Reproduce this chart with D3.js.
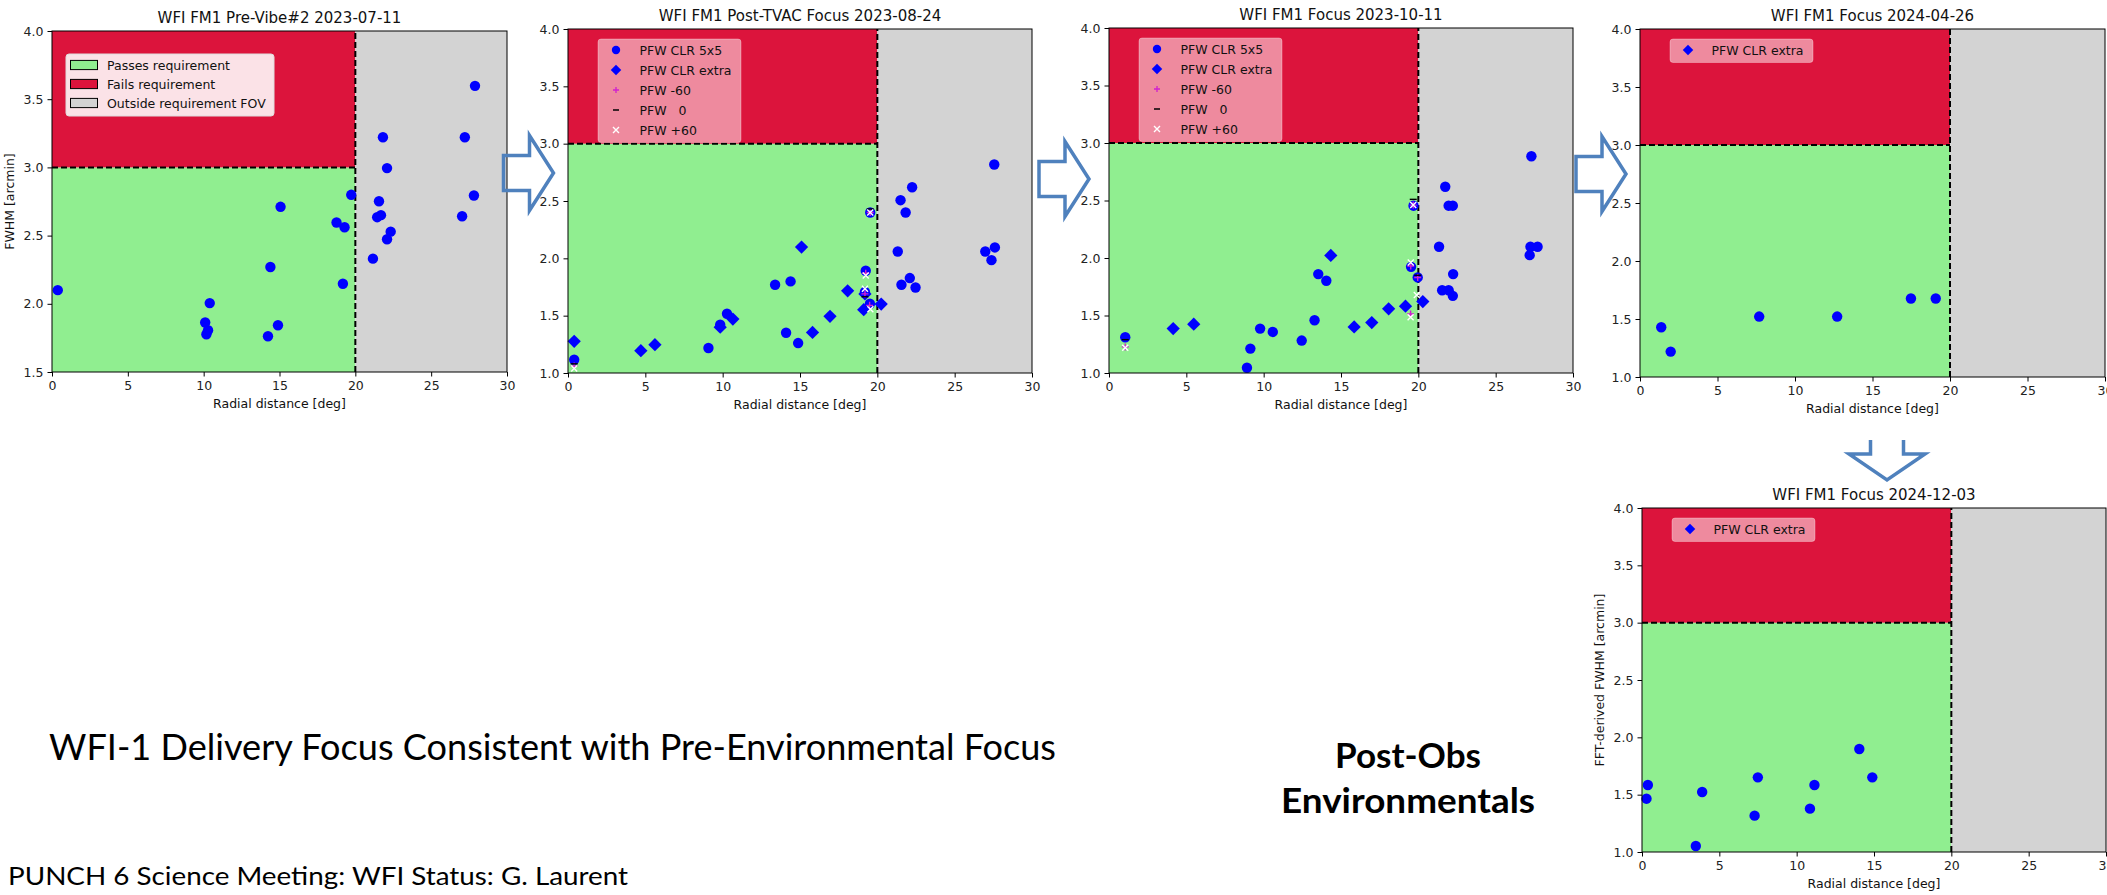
<!DOCTYPE html>
<html>
<head>
<meta charset="utf-8">
<script src="https://cdn.jsdelivr.net/npm/d3@7"></script>
<style>
  body { margin: 0; background: #fff; }
  svg { display: block; }
  text { white-space: pre; }
</style>
</head>
<body>
<svg id="chart"></svg>
<script>
const width = 2107;
const height = 895;

// ---- data ----
const xTicks = [0, 5, 10, 15, 20, 25, 30];
const yTicksPreVibe = [1.5, 2.0, 2.5, 3.0, 3.5, 4.0];
const yTicks = [1.0, 1.5, 2.0, 2.5, 3.0, 3.5, 4.0];

const titles = [
  "WFI FM1 Pre-Vibe#2 2023-07-11",
  "WFI FM1 Post-TVAC Focus 2023-08-24",
  "WFI FM1 Focus 2023-10-11",
  "WFI FM1 Focus 2024-04-26",
  "WFI FM1 Focus 2024-12-03"
];

const zoneLabels = ["Passes requirement", "Fails requirement", "Outside requirement FOV"];
const pfwLabels = ["PFW CLR 5x5", "PFW CLR extra", "PFW -60", "PFW   0", "PFW +60"];

// [radial distance deg, FWHM arcmin]
const preVibeDots = [[0.38,2.10],[10.4,2.005],[10.1,1.863],[10.29,1.806],[10.18,1.777],[15.07,2.711],[14.4,2.27],[14.24,1.762],[14.9,1.843],[18.76,2.596],[19.29,2.561],[19.18,2.147],[19.73,2.799],[21.16,2.331],[21.56,2.752],[21.44,2.635],[21.69,2.65],[21.82,3.221],[22.09,2.995],[22.33,2.529],[22.09,2.473],[27.22,3.221],[27.04,2.642],[27.82,2.794],[27.89,3.598]];

const tvacDots = [[0.40,1.116],[9.08,1.218],[13.39,1.77],[14.39,1.799],[14.10,1.351],[14.88,1.261],[9.84,1.421],[10.28,1.517],[19.25,1.892],[19.2,1.706],[19.52,1.604],[19.54,2.40],[21.32,2.06],[21.5,2.507],[21.83,2.40],[22.25,2.62],[21.56,1.77],[22.1,1.828],[22.47,1.746],[26.98,2.06],[27.38,1.984],[27.6,2.095],[27.56,2.818]];
const tvacExtra = [[0.40,1.276],[4.71,1.195],[5.62,1.247],[9.84,1.40],[10.66,1.47],[15.10,2.098],[15.81,1.354],[16.94,1.494],[18.08,1.717],[19.12,1.552],[20.25,1.601],[19.2,1.69]];
const tvacMinus60 = [[0.40,1.06],[19.25,1.87],[19.2,1.69],[19.5,1.59],[19.54,2.40]];
const tvacZero = [[0.40,1.08],[19.2,1.665],[19.54,2.43]];
const tvacPlus60 = [[0.40,1.04],[19.25,1.85],[19.2,1.735],[19.55,1.555],[19.54,2.40]];

const oct23Dots = [[1.05,1.311],[8.92,1.046],[9.14,1.212],[9.77,1.386],[10.59,1.357],[12.46,1.282],[13.29,1.459],[13.53,1.86],[14.05,1.802],[19.53,1.923],[19.69,2.455],[19.96,1.831],[21.34,2.098],[21.74,2.62],[21.96,2.455],[22.23,2.455],[22.25,1.86],[21.54,1.72],[21.96,1.72],[22.23,1.671],[27.31,2.885],[27.25,2.098],[27.71,2.098],[27.2,2.025]];
const oct23Extra = [[4.15,1.386],[5.48,1.424],[14.34,2.022],[15.85,1.401],[16.99,1.439],[18.08,1.558],[19.17,1.581],[20.29,1.621]];
const oct23Minus60 = [[1.05,1.227],[19.67,2.46],[19.51,1.93],[19.96,1.83],[19.5,1.513]];
const oct23Zero = [[1.05,1.29],[19.67,2.51],[19.96,1.85]];
const oct23Plus60 = [[1.05,1.22],[19.67,2.46],[19.51,1.96],[19.9,1.678],[19.5,1.484]];

const apr24Dots = [[1.37,1.429],[1.98,1.219],[7.69,1.521],[12.72,1.521],[17.48,1.677],[19.08,1.677]];
const dec24Dots = [[0.38,1.584],[0.29,1.465],[3.48,1.052],[3.89,1.523],[7.28,1.317],[7.49,1.651],[10.86,1.378],[11.15,1.584],[14.05,1.898],[14.89,1.651]];

// ---- layout ----
const GREEN = "#90ee90", RED = "#dc143c", GRAY = "#d3d3d3";
const FONT = "DejaVu Sans";

const panels = [
  { title: titles[0], x0: 52, x1: 507, y0: 31, y1: 372, yDomain: [1.5, 4], yTicks: yTicksPreVibe,
    ylabel: "FWHM [arcmin]", legend: "zones",
    dots: preVibeDots, extra: [], m60: [], z0: [], p60: [] },
  { title: titles[1], x0: 568, x1: 1032, y0: 29, y1: 373, yDomain: [1, 4], yTicks: yTicks,
    legend: "pfw", dots: tvacDots, extra: tvacExtra, m60: tvacMinus60, z0: tvacZero, p60: tvacPlus60 },
  { title: titles[2], x0: 1109, x1: 1573, y0: 28, y1: 373, yDomain: [1, 4], yTicks: yTicks,
    legend: "pfw", dots: oct23Dots, extra: oct23Extra, m60: oct23Minus60, z0: oct23Zero, p60: oct23Plus60 },
  { title: titles[3], x0: 1640, x1: 2105, y0: 29, y1: 377, yDomain: [1, 4], yTicks: yTicks,
    legend: "extra", dots: apr24Dots, extra: [], m60: [], z0: [], p60: [] },
  { title: titles[4], x0: 1642, x1: 2106, y0: 508, y1: 852, yDomain: [1, 4], yTicks: yTicks,
    ylabel: "FFT-derived FWHM [arcmin]", legend: "extra",
    dots: dec24Dots, extra: [], m60: [], z0: [], p60: [] }
];

const svg = d3.select("#chart")
  .attr("width", width)
  .attr("height", height);

svg.append("rect").attr("width", width).attr("height", height).attr("fill", "#fff");

const diamond = d3.symbol().type(d3.symbolSquare).size(88);

function plus(g, pts, x, y, color) {
  g.selectAll(null).data(pts).enter().append("path")
    .attr("d", d => `M${x(d[0]) - 3.5},${y(d[1])}h7M${x(d[0])},${y(d[1]) - 3.5}v7`)
    .attr("stroke", color).attr("stroke-width", 1.4).attr("fill", "none");
}
function dash(g, pts, x, y) {
  g.selectAll(null).data(pts).enter().append("path")
    .attr("d", d => `M${x(d[0]) - 3.5},${y(d[1])}h7`)
    .attr("stroke", "#000").attr("stroke-width", 1.4);
}
function cross(g, pts, x, y) {
  g.selectAll(null).data(pts).enter().append("path")
    .attr("d", d => `M${x(d[0]) - 3},${y(d[1]) - 3}l6,6M${x(d[0]) - 3},${y(d[1]) + 3}l6,-6`)
    .attr("stroke", "#fff").attr("stroke-width", 1.4);
}

function drawPanel(p) {
  const x = d3.scaleLinear().domain([0, 30]).range([p.x0, p.x1]);
  const y = d3.scaleLinear().domain(p.yDomain).range([p.y1, p.y0]);
  const g = svg.append("g");

  // requirement zones
  g.append("rect").attr("x", x(0)).attr("y", y(3)).attr("width", x(20) - x(0))
    .attr("height", y(p.yDomain[0]) - y(3)).attr("fill", GREEN);
  g.append("rect").attr("x", x(0)).attr("y", y(4)).attr("width", x(20) - x(0))
    .attr("height", y(3) - y(4)).attr("fill", RED);
  g.append("rect").attr("x", x(20)).attr("y", y(4)).attr("width", x(30) - x(20))
    .attr("height", y(p.yDomain[0]) - y(4)).attr("fill", GRAY);

  g.append("line").attr("x1", x(0)).attr("x2", x(20)).attr("y1", y(3)).attr("y2", y(3))
    .attr("stroke", "#000").attr("stroke-width", 2).attr("stroke-dasharray", "6,3");
  g.append("line").attr("x1", x(20)).attr("x2", x(20)).attr("y1", y(p.yDomain[0])).attr("y2", y(4))
    .attr("stroke", "#000").attr("stroke-width", 2).attr("stroke-dasharray", "6,3");

  // measurements
  g.selectAll(null).data(p.dots).enter().append("circle")
    .attr("cx", d => x(d[0])).attr("cy", d => y(d[1])).attr("r", 5.2).attr("fill", "blue");
  g.selectAll(null).data(p.extra).enter().append("path")
    .attr("d", diamond)
    .attr("transform", d => `translate(${x(d[0])},${y(d[1])}) rotate(45)`)
    .attr("fill", "blue");
  plus(g, p.m60, x, y, "#d020d0");
  dash(g, p.z0, x, y);
  cross(g, p.p60, x, y);

  // frame + axes
  g.append("rect").attr("x", p.x0).attr("y", p.y0).attr("width", p.x1 - p.x0)
    .attr("height", p.y1 - p.y0).attr("fill", "none").attr("stroke", "#000").attr("stroke-width", 1);

  const ax = g.append("g").attr("transform", `translate(0,${p.y1})`)
    .call(d3.axisBottom(x).tickValues(xTicks).tickSize(4.5).tickPadding(4.5).tickFormat(d3.format("d")));
  const ay = g.append("g").attr("transform", `translate(${p.x0},0)`)
    .call(d3.axisLeft(y).tickValues(p.yTicks).tickSize(4.5).tickPadding(4).tickFormat(d3.format(".1f")));
  [ax, ay].forEach(a => {
    a.select(".domain").remove();
    a.attr("font-family", FONT).attr("font-size", 12.5);
    a.selectAll("text").attr("fill", "#222");
    a.selectAll("line").attr("stroke", "#000");
  });

  g.append("text").attr("x", (p.x0 + p.x1) / 2).attr("y", p.y0 - 8.5)
    .attr("text-anchor", "middle").attr("font-family", FONT).attr("font-size", 15)
    .attr("fill", "#111").text(p.title);
  g.append("text").attr("x", (p.x0 + p.x1) / 2).attr("y", p.y1 + 36)
    .attr("text-anchor", "middle").attr("font-family", FONT).attr("font-size", 12.5)
    .attr("fill", "#111").text("Radial distance [deg]");
  if (p.ylabel) {
    g.append("text")
      .attr("transform", `translate(${p.x0 - 42},${(p.y0 + p.y1) / 2}) rotate(-90)`)
      .attr("dy", "0.35em").attr("text-anchor", "middle")
      .attr("font-family", FONT).attr("font-size", 12.5).attr("fill", "#111").text(p.ylabel);
  }

  // legends
  const lg = g.append("g").attr("font-family", FONT).attr("font-size", 12.5).attr("fill", "#111");
  if (p.legend === "zones") {
    lg.append("rect").attr("x", p.x0 + 14).attr("y", p.y0 + 23).attr("width", 208).attr("height", 62)
      .attr("rx", 3).attr("fill", "#fff").attr("fill-opacity", 0.88).attr("stroke", "#ddd");
    const sw = [GREEN, RED, GRAY];
    zoneLabels.forEach((t, i) => {
      const cy = p.y0 + 34 + i * 19;
      lg.append("rect").attr("x", p.x0 + 18.5).attr("y", cy - 4.6).attr("width", 27).attr("height", 9.2)
        .attr("fill", sw[i]).attr("stroke", "#000").attr("stroke-width", 1);
      lg.append("text").attr("x", p.x0 + 55).attr("y", cy).attr("dy", "0.36em").text(t);
    });
  } else {
    const labels = p.legend === "pfw" ? pfwLabels : [pfwLabels[1]];
    const rows = labels.length;
    lg.append("rect").attr("x", p.x0 + 30).attr("y", p.y0 + 10).attr("width", 143)
      .attr("height", rows * 20 + 3.5).attr("rx", 3)
      .attr("fill", "#fff").attr("fill-opacity", 0.5).attr("stroke", "#fff").attr("stroke-opacity", 0.3);
    labels.forEach((t, i) => {
      const cy = p.y0 + 21 + i * 20;
      const mx = p.x0 + 48;
      const kind = p.legend === "pfw" ? i : 1;
      if (kind === 0) lg.append("circle").attr("cx", mx).attr("cy", cy).attr("r", 4.2).attr("fill", "blue");
      if (kind === 1) lg.append("path").attr("d", d3.symbol().type(d3.symbolSquare).size(55))
        .attr("transform", `translate(${mx},${cy}) rotate(45)`).attr("fill", "blue");
      if (kind === 2) lg.append("path").attr("d", `M${mx - 3},${cy}h6M${mx},${cy - 3}v6`)
        .attr("stroke", "#d020d0").attr("stroke-width", 1.3);
      if (kind === 3) lg.append("path").attr("d", `M${mx - 3},${cy}h6`).attr("stroke", "#000").attr("stroke-width", 1.5);
      if (kind === 4) lg.append("path").attr("d", `M${mx - 3},${cy - 3}l6,6M${mx - 3},${cy + 3}l6,-6`)
        .attr("stroke", "#fff").attr("stroke-width", 1.4);
      lg.append("text").attr("x", p.x0 + 71.5).attr("y", cy).attr("dy", "0.36em").text(t);
    });
  }
}

panels.forEach(drawPanel);

// ---- slide decorations: outlined block arrows ----
const ARROW = "#4f81bd";
function rightArrow(left, cy) {
  const len = 50, headLen = 24, headH = 75, shaftH = 35;
  const b = left + len - headLen;
  const pts = [[left, cy - shaftH / 2], [b, cy - shaftH / 2], [b, cy - headH / 2], [left + len, cy],
    [b, cy + headH / 2], [b, cy + shaftH / 2], [left, cy + shaftH / 2]];
  svg.append("path").attr("d", d3.line()(pts) + "Z")
    .attr("fill", "none").attr("stroke", ARROW).attr("stroke-width", 3.5).attr("stroke-linejoin", "miter");
}
rightArrow(503.5, 173);
rightArrow(1039, 179);
rightArrow(1576, 174);

(function downArrow(cx, top, tip) {
  const headW = 76, shaftW = 33, b = tip - 26;
  const pts = [[cx - shaftW / 2, top], [cx - shaftW / 2, b], [cx - headW / 2, b], [cx, tip],
    [cx + headW / 2, b], [cx + shaftW / 2, b], [cx + shaftW / 2, top]];
  svg.append("path").attr("d", d3.line()(pts))
    .attr("fill", "none").attr("stroke", ARROW).attr("stroke-width", 3.5);
})(1887, 440, 480);

// ---- slide text ----
const SLIDE_FONT = "Lato, 'Open Sans', sans-serif";
svg.append("text").attr("x", 49).attr("y", 760).attr("font-family", SLIDE_FONT).attr("font-size", 37)
  .attr("textLength", 1007).attr("lengthAdjust", "spacingAndGlyphs").attr("fill", "#000")
  .text("WFI-1 Delivery Focus Consistent with Pre-Environmental Focus");
svg.append("text").attr("x", 8).attr("y", 885).attr("font-family", SLIDE_FONT).attr("font-size", 25)
  .attr("textLength", 620).attr("lengthAdjust", "spacingAndGlyphs").attr("fill", "#000")
  .text("PUNCH 6 Science Meeting: WFI Status: G. Laurent");
svg.append("text").attr("x", 1335).attr("y", 768).attr("font-family", SLIDE_FONT).attr("font-size", 35)
  .attr("font-weight", "bold").attr("textLength", 146).attr("lengthAdjust", "spacingAndGlyphs")
  .attr("fill", "#000").text("Post-Obs");
svg.append("text").attr("x", 1281).attr("y", 813).attr("font-family", SLIDE_FONT).attr("font-size", 35)
  .attr("font-weight", "bold").attr("textLength", 254).attr("lengthAdjust", "spacingAndGlyphs")
  .attr("fill", "#000").text("Environmentals");
</script>
</body>
</html>
